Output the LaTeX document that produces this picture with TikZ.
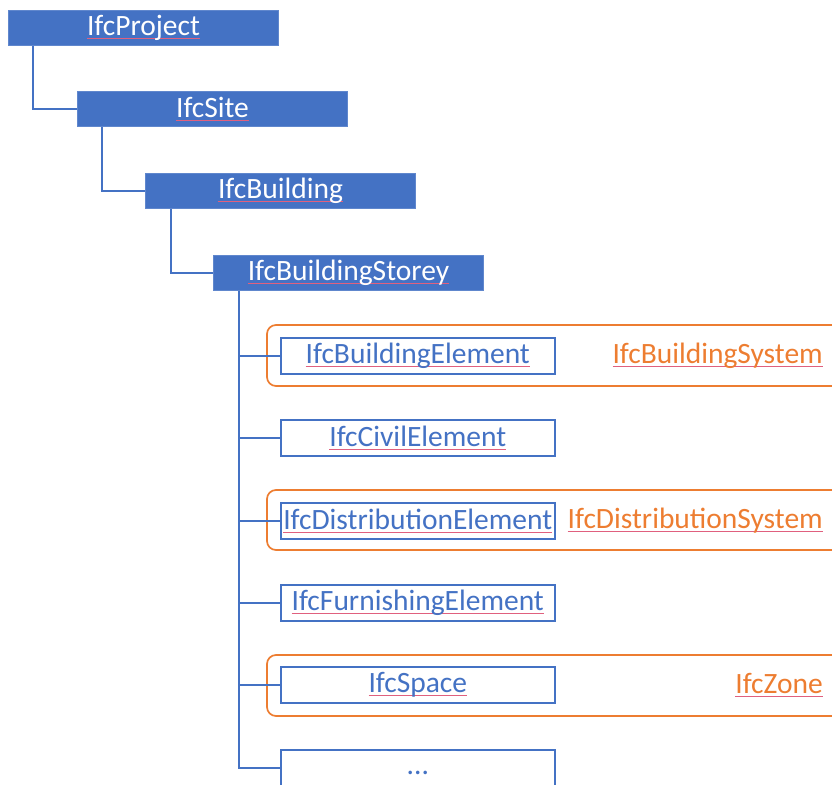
\documentclass[tikz,border=0pt]{standalone}
\usepackage{fontspec}
\setmainfont{Carlito}
\definecolor{ifcblue}{HTML}{4472C4}
\definecolor{ifcorange}{HTML}{ED7D31}
\definecolor{squig}{HTML}{E0607E}
\newcommand\sqline[1]{\setbox0\hbox{#1}\leavevmode\rlap{\textcolor{squig}{\raisebox{-3.5pt}{\rule{\wd0}{1pt}}}}\box0}
\tikzset{
  topbox/.style={draw=ifcblue!85!white, fill=ifcblue, line width=1pt, text=white, minimum width=270pt, minimum height=35pt, inner sep=0pt, anchor=north west, font=\fontsize{29.5}{31}\selectfont},
  childbox/.style={draw=ifcblue, fill=white, line width=1.6pt, text=ifcblue, minimum width=274pt, minimum height=36pt, inner sep=0pt, anchor=north west, font=\fontsize{29.5}{31}\selectfont},
  groupbox/.style={draw=ifcorange, line width=1.7pt, rounded corners=9pt},
  grouplabel/.style={text=ifcorange, anchor=east, inner sep=0pt, font=\fontsize{29.5}{31}\selectfont},
  link/.style={draw=ifcblue, line width=1.7pt},
}
\begin{document}
\begin{tikzpicture}[x=1pt,y=-1pt]
\useasboundingbox (0,0) rectangle (832,784);
\clip (0,0) rectangle (832,784);
% orange groups
\draw[groupbox] (267,325) rectangle (850,386);
\draw[groupbox] (267,490) rectangle (850,550);
\draw[groupbox] (267,655) rectangle (850,716);
% top hierarchy
\node[topbox] (proj) at (8,10) {\sqline{IfcProject}};
\node[topbox] (site) at (77,91) {\sqline{IfcSite}};
\node[topbox] (bldg) at (145,173) {\sqline{IfcBuilding}};
\node[topbox] (storey) at (213,255) {\sqline{IfcBuildingStorey}};
\draw[link] ([xshift=25pt]proj.south west) |- (site.west);
\draw[link] ([xshift=25pt]site.south west) |- (bldg.west);
\draw[link] ([xshift=26pt]bldg.south west) |- (storey.west);
\coordinate (sp) at ([xshift=26pt]storey.south west);
% children
\node[childbox] (c1) at (280,337) {\sqline{IfcBuildingElement}};
\node[childbox] (c2) at (280,419) {\sqline{IfcCivilElement}};
\node[childbox] (c3) at (280,502) {\sqline{IfcDistributionElement}};
\node[childbox] (c4) at (280,584) {\sqline{IfcFurnishingElement}};
\node[childbox] (c5) at (280,666) {\sqline{IfcSpace}};
\node[childbox] (c6) at (280,749) {\raisebox{-13pt}{...}};
\foreach \c in {c1,c2,c3,c4,c5,c6} { \draw[link] (sp) |- (\c.west); }
% group labels
\node[grouplabel] (g1) at (823,356) {\sqline{IfcBuildingSystem}};
\node[grouplabel] (g2) at (823,521) {\sqline{IfcDistributionSystem}};
\node[grouplabel] (g3) at (823,685) {\sqline{IfcZone}};
\end{tikzpicture}
\end{document}
